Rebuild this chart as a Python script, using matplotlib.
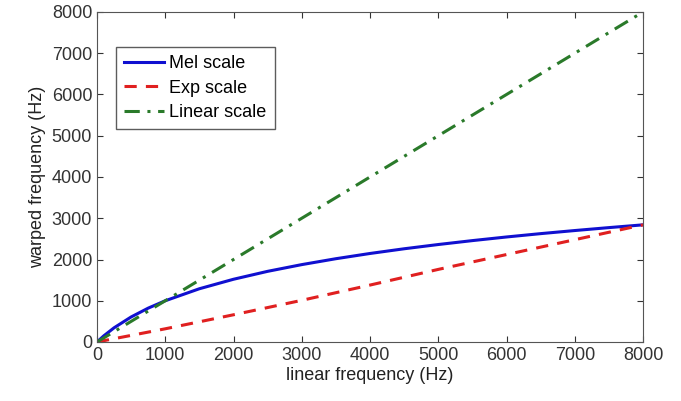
import matplotlib
matplotlib.use("Agg")
import matplotlib.pyplot as plt

plt.rcParams['font.family'] = ['Liberation Sans', 'DejaVu Sans']

freq = [0, 100, 250, 500, 750, 1000, 1500, 2000, 2500, 3000, 3500, 4000,
        4500, 5000, 5500, 6000, 6500, 7000, 7500, 8000]
mel = [0, 150, 344, 607, 821, 1000, 1291, 1521, 1713, 1876, 2019, 2146,
       2260, 2363, 2458, 2546, 2627, 2702, 2773, 2840]
exp_freq = [0, 1000, 2000, 3000, 4000, 5000, 6000, 7000, 8000]
exp_vals = [0, 320, 660, 1010, 1380, 1760, 2120, 2480, 2840]
lin_freq = [0, 8000]
lin_vals = [0, 8000]

fig = plt.figure(figsize=(6.81, 4.01), dpi=100)
ax = fig.add_axes([97/681, 1 - 342/401, (643-97)/681, (342-12)/401])

ax.plot(freq, mel, color='#1010d0', lw=2.2, label='Mel scale')
ax.plot(exp_freq, exp_vals, color='#e02020', lw=2.2, ls=(0, (4, 3)), label='Exp scale')
ax.plot(lin_freq, lin_vals, color='#2a7a2a', lw=2.2, ls=(0, (5, 2.5, 1, 2.5)), label='Linear scale')

ax.set_xlim(0, 8000)
ax.set_ylim(0, 8000)
ax.set_xticks(range(0, 8001, 1000))
ax.set_yticks(range(0, 8001, 1000))
ax.tick_params(direction='in', top=True, right=True, labelsize=13, length=4, colors='#333333')
for s in ax.spines.values():
    s.set_color('#555555')
ax.set_xlabel('linear frequency (Hz)', fontsize=13, color='#222222', labelpad=2)
ax.set_ylabel('warped frequency (Hz)', fontsize=13, color='#222222', labelpad=4)

leg = ax.legend(loc='upper left', bbox_to_anchor=((116-97)/546, (342-47)/330), fontsize=13,
                frameon=True, fancybox=False, edgecolor='#333333', borderaxespad=0,
                handlelength=2.2, handletextpad=0.3, borderpad=0.45, labelspacing=0.42)
leg.get_frame().set_linewidth(1.0)

fig.savefig('out.png', dpi=100)
